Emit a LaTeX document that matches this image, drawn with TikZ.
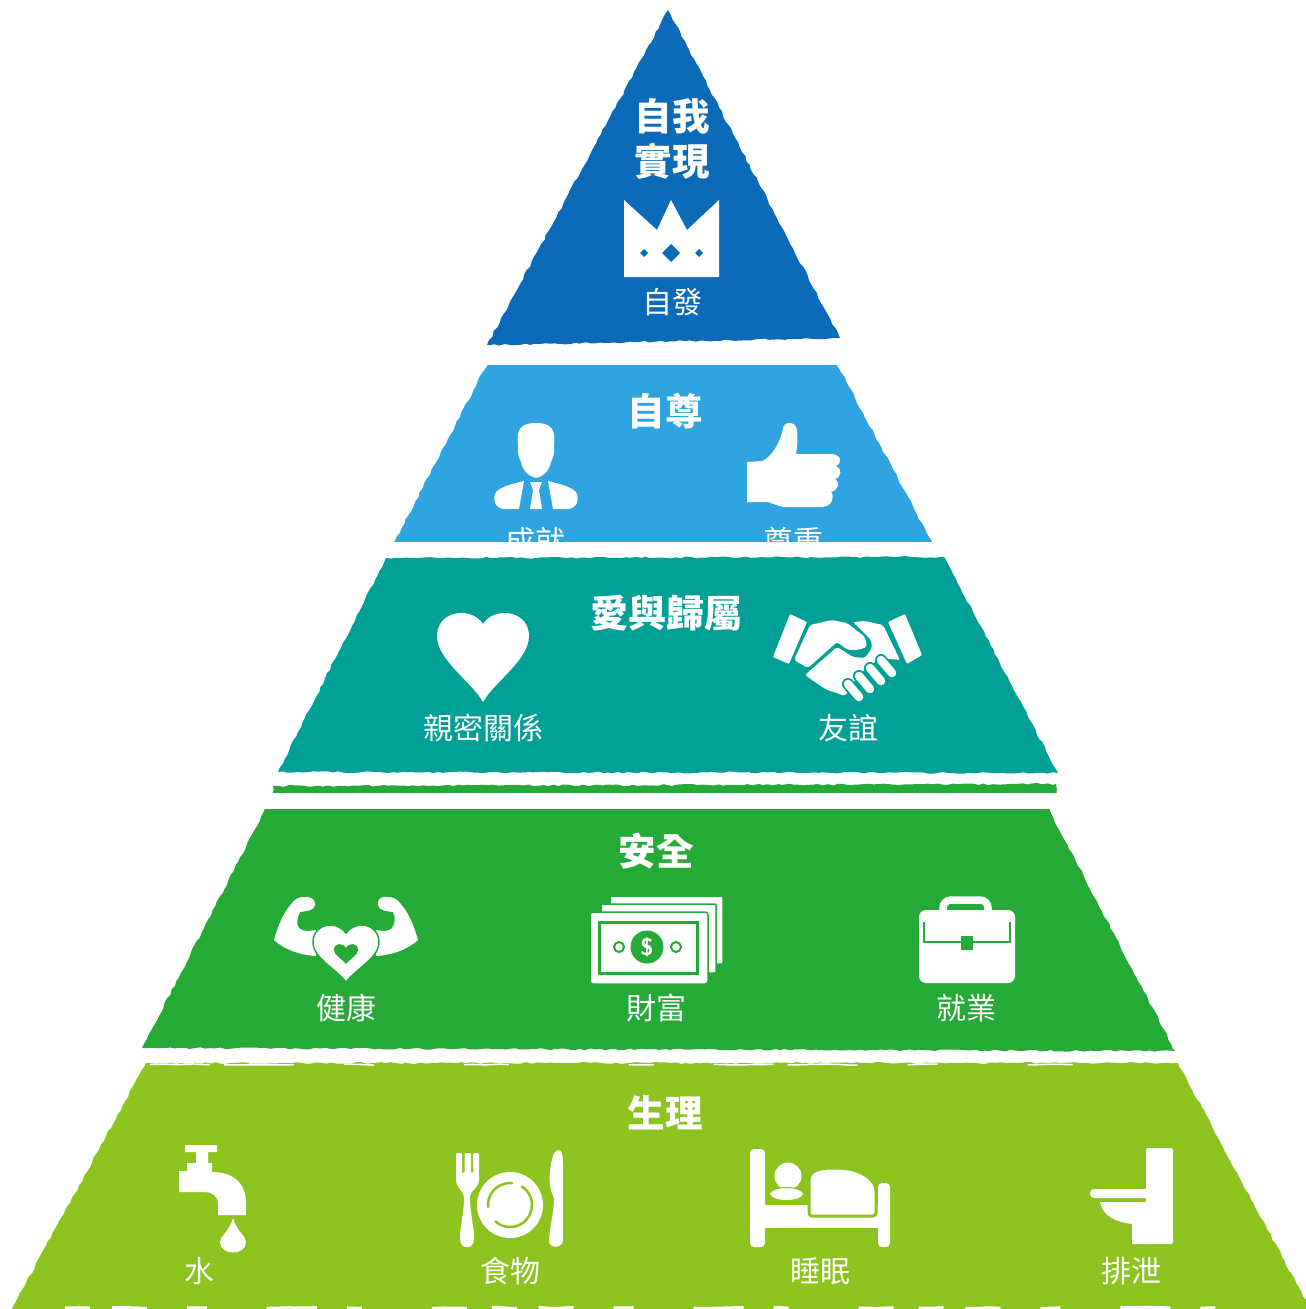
\documentclass[tikz,border=0pt]{standalone}
\usepackage{fontspec}
\usepackage{tikz}
\usetikzlibrary{decorations.pathmorphing}
\newfontfamily\cjk{Noto Sans CJK TC}
\definecolor{layerA}{HTML}{0B6BB8}
\definecolor{layerB}{HTML}{2FA4E0}
\definecolor{layerC}{HTML}{00A096}
\definecolor{layerD}{HTML}{25AA38}
\definecolor{layerE}{HTML}{8DC31F}
\tikzset{
  torn/.style={decorate, decoration={random steps, segment length=5pt, amplitude=0.9pt}},
  fleck/.style={white, decorate, decoration={random steps, segment length=14pt, amplitude=0.6pt}},
  title/.style={text=white, font=\cjk\bfseries\fontsize{37.5}{37.5}\selectfont, inner sep=0pt},
  caption/.style={text=white, font=\cjk\fontsize{30}{30}\selectfont, inner sep=0pt},
  icon/.style={fill=white, draw=none}
}

\begin{document}
\begin{tikzpicture}[x=1pt, y=-1pt]
  \useasboundingbox (0,0) rectangle (1306,1309);
  \pgfmathsetseed{7}
  % Layers
  \fill[layerA, torn] (668,10) -- (840,338) -- (487,345) -- cycle;
  \begin{scope}
    \clip (380,365) rectangle (940,541);
    \fill[layerB, torn] (492,355) -- (832,355) -- (936,550) -- (390,550) -- cycle;
  \end{scope}
  \fill[layerC, torn] (386,558) -- (944,557) -- (1058,773) -- (278,772) -- cycle;
  \begin{scope}
    \clip (260,770) rectangle (1060,792);
    \fill[layerD, torn] (273,786) -- (1056,784) -- (1056,800) -- (273,800) -- cycle;
  \end{scope}
  \begin{scope}
    \clip (130,809) rectangle (1180,1060);
    \fill[layerD, torn] (270,800) -- (1044,800) -- (1175,1051) -- (142,1048) -- cycle;
  \end{scope}
  \begin{scope}
    \clip (0,1055) rectangle (1306,1309);
    \fill[layerE, torn] (146,1063) -- (1178,1063) -- (1312,1312) -- (10,1312) -- cycle;
  \end{scope}
  \draw[fleck, line width=3pt, dash pattern=on 25pt off 22pt on 35pt off 40pt on 20pt off 60pt on 50pt off 30pt on 15pt off 70pt on 35pt off 25pt]
    (65,1308) -- (1260,1308);
  \draw[fleck, line width=1.5pt, dash pattern=on 60pt off 14pt on 70pt off 50pt on 30pt off 90pt on 45pt off 120pt on 25pt off 60pt]
    (150,1064.5) -- (1170,1064.5);

  % Titles and captions
  \node[title] (selfa) at (672,116) {自我};
  \node[title] (selfb) at (672,161) {實現};
  \node[caption] (spont) at (672,302) {自發};
  \node[title] (esteem) at (665,411) {自尊};
  \begin{scope}
    \clip (380,500) rectangle (940,541);
    \node[caption] (achieve) at (535,541) {成就};
    \node[caption] (respect) at (793,541) {尊重};
  \end{scope}
  \node[title, font=\cjk\bfseries\fontsize{38}{38}\selectfont] (love) at (666,613) {愛與歸屬};
  \node[caption] (intimacy) at (483,728) {親密關係};
  \node[caption] (friend) at (848,728) {友誼};
  \node[title] (safety) at (656,851) {安全};
  \node[caption] (health) at (346,1008) {健康};
  \node[caption] (wealth) at (656,1008) {財富};
  \node[caption] (job) at (966,1008) {就業};
  \node[title] (physio) at (665,1113) {生理};
  \node[caption] (water) at (199,1271) {水};
  \node[caption] (food) at (510,1271) {食物};
  \node[caption] (sleep) at (820,1271) {睡眠};
  \node[caption] (excrete) at (1131,1271) {排泄};

  % Crown
  \fill[icon] (624,200) -- (657,230) -- (671,200) -- (687,230) -- (719,200) -- (719,277) -- (624,277) -- cycle;
  \fill[layerA] (671,244) -- (680,253) -- (671,262) -- (662,253) -- cycle;
  \fill[layerA] (644,249) -- (648,253) -- (644,257) -- (640,253) -- cycle;
  \fill[layerA] (699,249) -- (703,253) -- (699,257) -- (695,253) -- cycle;

  % Person
  \fill[icon] (518,445) .. controls (516,428) and (522,423) .. (536,423)
    .. controls (550,423) and (556,428) .. (554,445)
    .. controls (555,452) and (553,458) .. (551,462)
    .. controls (549,470) and (546,475) .. (536,478)
    .. controls (526,475) and (523,470) .. (521,462)
    .. controls (519,458) and (517,452) .. (518,445) -- cycle;
  \fill[icon] (524,481) -- (519,509) -- (505,509) .. controls (496,509) and (493,502) .. (495,494)
    .. controls (498,487) and (512,484) .. (524,481) -- cycle;
  \fill[icon] (548,481) -- (553,509) -- (567,509) .. controls (576,509) and (579,502) .. (577,494)
    .. controls (574,487) and (560,484) .. (548,481) -- cycle;
  \fill[icon] (530,482) -- (542,482) -- (539,490) -- (542,509) -- (530,509) -- (533,490) -- cycle;

  % Thumb
  \fill[icon] (747,462) -- (762,461) .. controls (770,458) and (780,445) .. (783,428)
    .. controls (784,421) and (796,421) .. (797,430)
    .. controls (798,440) and (797,448) .. (796,454) -- (832,454)
    .. controls (842,455) and (842,464) .. (836,466)
    .. controls (842,468) and (842,477) .. (835,479)
    .. controls (840,482) and (839,490) .. (831,492)
    .. controls (835,496) and (832,507) .. (822,507)
    -- (790,507) .. controls (780,508) and (775,504) .. (768,502) -- (747,502) -- cycle;

  % Heart
  \fill[icon] (483,702) .. controls (472,682) and (437,660) .. (437,636)
    .. controls (437,620) and (450,613) .. (461,613)
    .. controls (471,613) and (478,617) .. (483,624)
    .. controls (488,617) and (495,613) .. (505,613)
    .. controls (516,613) and (529,620) .. (529,636)
    .. controls (529,660) and (494,682) .. (483,702) -- cycle;

  % Handshake
  \fill[icon, rounded corners=1pt] (790,614) -- (807,622) -- (789,664) -- (773,657) -- cycle;
  \fill[icon, rounded corners=1pt] (905,614) -- (888,622) -- (907,664) -- (922,655) -- cycle;
  \fill[icon, rounded corners=2pt] (810,625) -- (832,620) -- (847,623) -- (865,637) -- (867,647)
    -- (858,650) -- (848,650) -- (837,642) -- (808,668) -- (794,660) -- cycle;
  \fill[icon, rounded corners=2pt] (805,675) -- (837,647) -- (853,657) -- (865,658) -- (872,648)
    -- (871,640) -- (853,622) -- (865,621) -- (883,625) -- (900,660) -- (880,658) -- (858,675)
    -- (845,696) -- (837,693) -- (827,690) -- (815,682) -- cycle;
  \foreach \i in {0,1,2,3} {
    \draw[layerC, line width=12pt, line cap=round] ({848+\i*11},{684-\i*8}) -- ({859+\i*11},{697-\i*8});
  }
  \foreach \i in {0,1,2,3} {
    \draw[white, line width=8.5pt, line cap=round] ({848+\i*11},{684-\i*8}) -- ({859+\i*11},{697-\i*8});
  }

  % Muscles
  \fill[icon] (303,897) .. controls (310,896) and (316,899) .. (315,905)
    .. controls (314,911) and (306,911) .. (300,912)
    .. controls (297,918) and (296,924) .. (299,928)
    .. controls (303,932) and (310,931) .. (316,930) -- (316,956)
    .. controls (300,955) and (285,950) .. (274,940)
    .. controls (278,925) and (284,912) .. (292,903)
    .. controls (295,899) and (299,897) .. (303,897) -- cycle;
  \fill[icon] (388,897) .. controls (381,896) and (377,899) .. (378,905)
    .. controls (379,911) and (387,911) .. (393,912)
    .. controls (396,918) and (395,924) .. (392,928)
    .. controls (388,932) and (383,931) .. (376,930) -- (376,956)
    .. controls (392,955) and (407,950) .. (418,940)
    .. controls (414,925) and (408,912) .. (400,903)
    .. controls (397,899) and (393,897) .. (388,897) -- cycle;
  \fill[icon, draw=layerD, line width=1.5pt] (346,982) .. controls (335,968) and (313,958) .. (313,942)
    .. controls (313,931) and (322,925) .. (330,925)
    .. controls (337,925) and (342,928) .. (346,933)
    .. controls (350,928) and (355,925) .. (362,925)
    .. controls (370,925) and (379,931) .. (379,942)
    .. controls (379,958) and (357,968) .. (346,982) -- cycle;
  \fill[layerD] (346,964) .. controls (341,958) and (334,955) .. (334,950)
    .. controls (334,943) and (343,942) .. (346,948)
    .. controls (349,942) and (358,943) .. (358,950)
    .. controls (358,955) and (351,958) .. (346,964) -- cycle;

  % Money
  \fill[icon, draw=layerD, line width=1.5pt, rounded corners=1pt] (610,896) rectangle (723,964);
  \fill[icon, draw=layerD, line width=1.5pt, rounded corners=1pt] (601,904) rectangle (716,973);
  \fill[icon, draw=layerD, line width=1.5pt, rounded corners=3pt] (590,912) rectangle (708,984);
  \draw[layerD, line width=3pt] (599,922) rectangle (697,973);
  \fill[layerD] (647,947) circle (16.5);
  \node[text=white, font=\sffamily\bfseries\fontsize{24}{24}\selectfont, inner sep=0pt] (dollar) at (647,947) {\$};
  \draw[layerD, line width=2pt] (619,947) circle (5);
  \draw[layerD, line width=2pt] (676,947) circle (5);

  % Briefcase
  \draw[white, line width=7.5pt, rounded corners=8pt] (943,912) -- (943,900) -- (988,900) -- (988,912);
  \fill[icon, rounded corners=7pt] (919,910) rectangle (1015,983);
  \draw[layerD, line width=2pt] (924,922) -- (924,942) -- (1010,942) -- (1010,922);
  \fill[layerD] (961,936) rectangle (973,950);

  % Tap
  \fill[icon] (185,1145) -- (217,1145) -- (217,1152) -- (208,1152) -- (208,1163) -- (212,1163)
    -- (212,1172) .. controls (236,1172) and (246,1186) .. (246,1203)
    -- (246,1215) -- (218,1215) -- (218,1204) .. controls (218,1196) and (212,1192) .. (205,1192)
    -- (179,1192) -- (179,1171) -- (187,1171) -- (187,1163) -- (196,1163) -- (196,1152) -- (185,1152) -- cycle;
  \fill[icon] (233,1218) .. controls (237,1232) and (246,1236) .. (246,1242)
    .. controls (246,1256) and (220,1256) .. (220,1242)
    .. controls (220,1236) and (229,1232) .. (233,1218) -- cycle;

  % Plate
  \fill[icon, rounded corners=1pt] (456,1153) -- (462,1153) -- (462,1173) -- (464.5,1173) -- (464.5,1153) -- (471,1153)
    -- (471,1173) -- (473,1173) -- (473,1153) -- (479,1153) -- (479,1178)
    .. controls (479,1188) and (471,1190) .. (470,1197)
    .. controls (470,1212) and (474,1228) .. (474,1238) .. controls (474,1250) and (460,1250) .. (460,1238)
    .. controls (460,1228) and (464,1212) .. (464,1197)
    .. controls (463,1190) and (456,1188) .. (456,1178) -- cycle;
  \fill[icon] (558,1150) .. controls (562,1150) and (563,1155) .. (563,1165) -- (563,1240)
    .. controls (563,1249) and (548,1249) .. (549,1240) .. controls (550,1225) and (554,1212) .. (554,1198)
    .. controls (550,1190) and (549,1182) .. (550,1172)
    .. controls (551,1160) and (554,1150) .. (558,1150) -- cycle;
  \fill[icon] (510,1205) circle (33);
  \draw[layerE, line width=2.5pt, line cap=round] ({510+22*cos(85)},{1205-22*sin(85)})
    arc[start angle=-85, end angle=-185, radius=22];
  \draw[layerE, line width=2.5pt, line cap=round] ({510+22*cos(228)},{1205-22*sin(228)})
    arc[start angle=-228, end angle=-417, radius=22];

  % Bed
  \fill[icon, rounded corners=4pt] (750,1149) rectangle (765,1247);
  \fill[icon, rounded corners=4pt] (878,1183) rectangle (890,1247);
  \fill[icon] (764,1205) rectangle (879,1228);
  \fill[icon, draw=layerE, line width=3pt, rounded corners=3pt] (809,1216) -- (809,1178)
    .. controls (812,1171) and (820,1168) .. (835,1168)
    .. controls (855,1168) and (870,1175) .. (876,1188) -- (876,1216) -- cycle;
  \fill[icon] (788,1176) circle (13.5);
  \fill[icon, draw=layerE, line width=1pt] (786.5,1194) ellipse (17 and 6.5);

  % Toilet
  \fill[icon, rounded corners=2pt] (1146,1148) rectangle (1173,1244);
  \fill[icon, rounded corners=4pt] (1090,1189) rectangle (1150,1198);
  \fill[icon] (1100,1202) -- (1150,1202) -- (1150,1244) -- (1132,1244) -- (1132,1224)
    .. controls (1115,1222) and (1103,1216) .. (1100,1202) -- cycle;
\end{tikzpicture}
\end{document}
